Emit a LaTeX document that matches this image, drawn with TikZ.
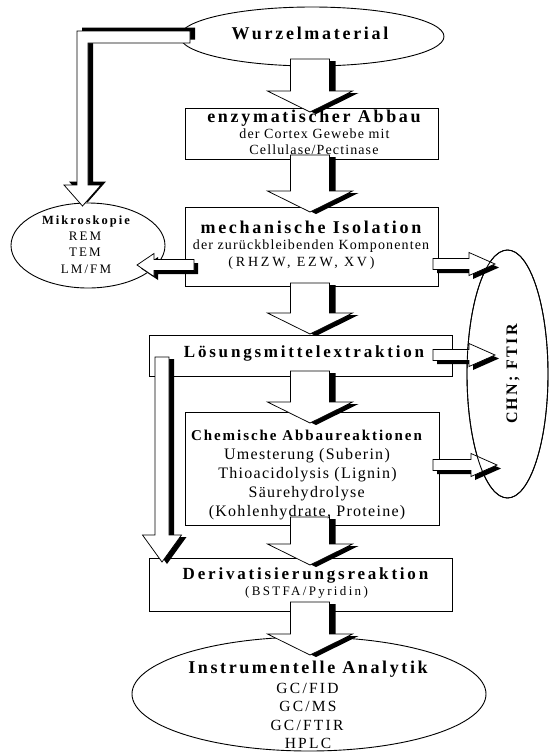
\documentclass[tikz,border=0pt]{standalone}
\usepackage{fontspec}
\setmainfont{Liberation Serif}
\usetikzlibrary{shapes.geometric,calc}

\newcommand{\FontB}[2]{\fontsize{#1}{#1}\selectfont\bfseries\addfontfeatures{LetterSpace=#2}}
\newcommand{\FontR}[2]{\fontsize{#1}{#1}\selectfont\addfontfeatures{LetterSpace=#2}}

% block arrow outlines: #1 start coordinate, #2 tip coordinate, #3/#4 canvas offset (shadow)
\newcommand{\DownBlock}[4]{let \p1=(#1), \p2=(#2) in
 ({\x2-19.5pt+(#3)},{\y1+(#4)}) -- ({\x2+19.5pt+(#3)},{\y1+(#4)}) --
 ({\x2+19.5pt+(#3)},{\y2+21pt+(#4)}) -- ({\x2+42.5pt+(#3)},{\y2+21pt+(#4)}) --
 ({\x2+(#3)},{\y2+(#4)}) -- ({\x2-42.5pt+(#3)},{\y2+21pt+(#4)}) --
 ({\x2-19.5pt+(#3)},{\y2+21pt+(#4)}) -- cycle}
\newcommand{\RightBlock}[4]{let \p1=(#1), \p2=(#2) in
 ({\x1+(#3)},{\y2+5.5pt+(#4)}) -- ({\x2-26pt+(#3)},{\y2+5.5pt+(#4)}) --
 ({\x2-26pt+(#3)},{\y2+11.5pt+(#4)}) -- ({\x2+(#3)},{\y2+(#4)}) --
 ({\x2-26pt+(#3)},{\y2-11.5pt+(#4)}) -- ({\x2-26pt+(#3)},{\y2-5.5pt+(#4)}) --
 ({\x1+(#3)},{\y2-5.5pt+(#4)}) -- cycle}
\newcommand{\LeftBlock}[4]{let \p1=(#1), \p2=(#2) in
 ({\x1+(#3)},{\y2+5.5pt+(#4)}) -- ({\x2+17pt+(#3)},{\y2+5.5pt+(#4)}) --
 ({\x2+17pt+(#3)},{\y2+11.5pt+(#4)}) -- ({\x2+(#3)},{\y2+(#4)}) --
 ({\x2+17pt+(#3)},{\y2-11.5pt+(#4)}) -- ({\x2+17pt+(#3)},{\y2-5.5pt+(#4)}) --
 ({\x1+(#3)},{\y2-5.5pt+(#4)}) -- cycle}
\newcommand{\BentBlock}[4]{let \p1=(#1), \p2=(#2) in
 ({\x1+(#3)},{\y1+6pt+(#4)}) -- ({\x2-5.5pt+(#3)},{\y1+6pt+(#4)}) --
 ({\x2-5.5pt+(#3)},{\y2+21pt+(#4)}) -- ({\x2-18.5pt+(#3)},{\y2+21pt+(#4)}) --
 ({\x2+(#3)},{\y2+(#4)}) -- ({\x2+18.5pt+(#3)},{\y2+21pt+(#4)}) --
 ({\x2+5.5pt+(#3)},{\y2+21pt+(#4)}) -- ({\x2+5.5pt+(#3)},{\y1-6pt+(#4)}) --
 ({\x1+(#3)},{\y1-6pt+(#4)}) -- cycle}
\newcommand{\LongBlock}[4]{let \p1=(#1), \p2=(#2) in
 ({\x2-7pt+(#3)},{\y1+(#4)}) -- ({\x2+7pt+(#3)},{\y1+(#4)}) --
 ({\x2+7pt+(#3)},{\y2+27pt+(#4)}) -- ({\x2+19.5pt+(#3)},{\y2+27pt+(#4)}) --
 ({\x2+(#3)},{\y2+(#4)}) -- ({\x2-19.5pt+(#3)},{\y2+27pt+(#4)}) --
 ({\x2-7pt+(#3)},{\y2+27pt+(#4)}) -- cycle}

\tikzset{
  boxnode/.style={draw, line width=0.9pt, rectangle, inner sep=0pt, outer sep=0pt, fill=white},
  ellnode/.style={draw, line width=0.9pt, ellipse, inner sep=0pt, outer sep=0pt},
  arrowbody/.style={fill=white, draw=black, line width=0.75pt, line join=miter},
  arrowshadow/.style={fill=black},
  txt/.style={inner sep=0pt, outer sep=0pt, anchor=base},
}

\begin{document}
\begin{tikzpicture}[x=1pt,y=-1pt]
\useasboundingbox (0,0) rectangle (549,753);

% ---- shapes
\node[ellnode, minimum width=264, minimum height=59] (wurzel) at (312,36.5) {};
\node[boxnode, minimum width=253, minimum height=51] (box1) at (311.5,133.5) {};
\node[boxnode, minimum width=253, minimum height=79] (box2) at (311.5,246.5) {};
\node[ellnode, minimum width=154, minimum height=85] (mikro) at (88,245.5) {};
\node[boxnode, minimum width=303, minimum height=41] (box3) at (300.5,355.5) {};
\node[boxnode, minimum width=254, minimum height=113] (box4) at (312,468.5) {};
\node[boxnode, minimum width=303, minimum height=53] (box5) at (300.5,584.5) {};
\node[ellnode, minimum width=354, minimum height=114] (instr) at (309,694) {};
\node[ellnode, minimum width=81, minimum height=248] (chn) at (507.5,374) {};

% ---- connector end points
\coordinate (a1s) at ($(wurzel.south)+(-2,-7)$);
\coordinate (a1t) at ($(box1.north)+(-1.5,4)$);
\coordinate (a2s) at ($(box1.south)+(-1.5,-4)$);
\coordinate (a2t) at ($(box2.north)+(-1.5,5)$);
\coordinate (a3s) at ($(box2.south)+(-1.5,-3)$);
\coordinate (a3t) at ($(box3.north)+(9.5,-1)$);
\coordinate (a4s) at ($(box3.south)+(9.5,-5)$);
\coordinate (a4t) at ($(box4.north)+(-2,11)$);
\coordinate (a5s) at ($(box4.south)+(-2,-8)$);
\coordinate (a5t) at ($(box5.north)+(9.5,7)$);
\coordinate (a6s) at ($(box5.south)+(9.5,-9)$);
\coordinate (a6t) at ($(instr.north)+(1,18)$);
\coordinate (r1s) at ($(box2.east)+(-5,17.5)$);
\coordinate (r1t) at ($(chn.west)+(28,-110)$);
\coordinate (r2s) at ($(box3.east)+(-19,-0.5)$);
\coordinate (r2t) at ($(chn.west)+(28,-19)$);
\coordinate (r3s) at ($(box4.east)+(-6,-3.5)$);
\coordinate (r3t) at ($(chn.west)+(30,91)$);
\coordinate (l1s) at ($(box2.west)+(9,17.5)$);
\coordinate (l1t) at ($(mikro.east)+(-28,19.5)$);
\coordinate (bs) at ($(wurzel.west)+(10,0.5)$);
\coordinate (bt) at ($(mikro.north)+(-5.5,3)$);
\coordinate (ls) at ($(box3.west)+(13,1.5)$);
\coordinate (lt) at ($(box5.north west)+(13,4)$);

% ---- block arrows (shadow, then body)
\fill[arrowshadow] \BentBlock{bs}{bt}{5pt}{3.5pt};
\filldraw[arrowbody] \BentBlock{bs}{bt}{0pt}{0pt};
\fill[arrowshadow] \DownBlock{a1s}{a1t}{6pt}{-2pt};
\filldraw[arrowbody] \DownBlock{a1s}{a1t}{0pt}{0pt};
\fill[arrowshadow] \DownBlock{a2s}{a2t}{6pt}{-2pt};
\filldraw[arrowbody] \DownBlock{a2s}{a2t}{0pt}{0pt};
\fill[arrowshadow] \DownBlock{a3s}{a3t}{6pt}{-2pt};
\filldraw[arrowbody] \DownBlock{a3s}{a3t}{0pt}{0pt};
\fill[arrowshadow] \DownBlock{a4s}{a4t}{6pt}{-2pt};
\filldraw[arrowbody] \DownBlock{a4s}{a4t}{0pt}{0pt};
\fill[arrowshadow] \DownBlock{a5s}{a5t}{6pt}{-2pt};
\filldraw[arrowbody] \DownBlock{a5s}{a5t}{0pt}{0pt};
\fill[arrowshadow] \DownBlock{a6s}{a6t}{6pt}{-2pt};
\filldraw[arrowbody] \DownBlock{a6s}{a6t}{0pt}{0pt};
\fill[arrowshadow] \LeftBlock{l1s}{l1t}{4pt}{-3.5pt};
\filldraw[arrowbody] \LeftBlock{l1s}{l1t}{0pt}{0pt};
\fill[arrowshadow] \RightBlock{r1s}{r1t}{4pt}{-3.5pt};
\filldraw[arrowbody] \RightBlock{r1s}{r1t}{0pt}{0pt};
\fill[arrowshadow] \RightBlock{r2s}{r2t}{4pt}{-3.5pt};
\filldraw[arrowbody] \RightBlock{r2s}{r2t}{0pt}{0pt};
\fill[arrowshadow] \RightBlock{r3s}{r3t}{4pt}{-3.5pt};
\filldraw[arrowbody] \RightBlock{r3s}{r3t}{0pt}{0pt};
\fill[arrowshadow] \LongBlock{ls}{lt}{5pt}{-2pt};
\filldraw[arrowbody] \LongBlock{ls}{lt}{0pt}{0pt};

% CHN ellipse outline on top
\draw[line width=0.9pt] (chn.center) ellipse [x radius=40.5, y radius=124];

% ---- texts
\node[txt, font={\FontB{18}{15}}] (tW) at (310,39.5) {Wurzelmaterial};
\node[txt, font={\FontB{18}{15}}] (t1a) at (314,122) {enzymatischer Abbau};
\node[txt, font={\FontR{14}{8}}] (t1b) at (314.5,138) {der Cortex Gewebe mit};
\node[txt, font={\FontR{14}{8}}] (t1c) at (314,154.5) {Cellulase/Pectinase};
\node[txt, font={\FontB{18}{15}}] (t2a) at (311,233) {mechanische Isolation};
\node[txt, font={\FontR{14}{8}}] (t2b) at (311,249.5) {der zurückbleibenden Komponenten};
\node[txt, font={\FontR{14}{20}}] (t2c) at (301.5,266) {(RHZW, EZW, XV)};
\node[txt, font={\FontB{12.5}{16}}] (tMa) at (86,224) {Mikroskopie};
\node[txt, font={\FontR{13}{16}}] (tMb) at (85,240.5) {REM};
\node[txt, font={\FontR{13}{16}}] (tMc) at (85,256) {TEM};
\node[txt, font={\FontR{13}{16}}] (tMd) at (86,273) {LM/FM};
\node[txt, font={\FontB{17}{16.5}}] (t3) at (304,357.5) {Lösungsmittelextraktion};
\node[txt, font={\FontB{15}{13}}] (t4a) at (306.5,440) {Chemische Abbaureaktionen};
\node[txt, font={\FontR{16}{8}}] (t4b) at (307,459) {Umesterung (Suberin)};
\node[txt, font={\FontR{16}{8}}] (t4c) at (307.5,478) {Thioacidolysis (Lignin)};
\node[txt, font={\FontR{16}{8}}] (t4d) at (306.7,497) {Säurehydrolyse};
\node[txt, font={\FontR{16}{8}}] (t4e) at (307,516) {(Kohlenhydrate, Proteine)};
\node[txt, font={\FontB{17}{16.5}}] (t5a) at (305.5,579) {Derivatisierungsreaktion};
\node[txt, font={\FontR{13}{18}}] (t5b) at (306.5,595) {(BSTFA/Pyridin)};
\node[txt, font={\FontB{18}{14.5}}] (tIa) at (308,673) {Instrumentelle Analytik};
\node[txt, font={\FontR{15.5}{14.5}}] (tIb) at (307.5,693) {GC/FID};
\node[txt, font={\FontR{15.5}{14.5}}] (tIc) at (308,711) {GC/MS};
\node[txt, font={\FontR{15.5}{14.5}}] (tId) at (307,730) {GC/FTIR};
\node[txt, font={\FontR{15.5}{14.5}}] (tIe) at (308,748) {HPLC};
\node[inner sep=0pt, outer sep=0pt, rotate=90, font={\FontB{16}{15}}] (tC) at (513,374) {CHN; FTIR};
\end{tikzpicture}
\end{document}
